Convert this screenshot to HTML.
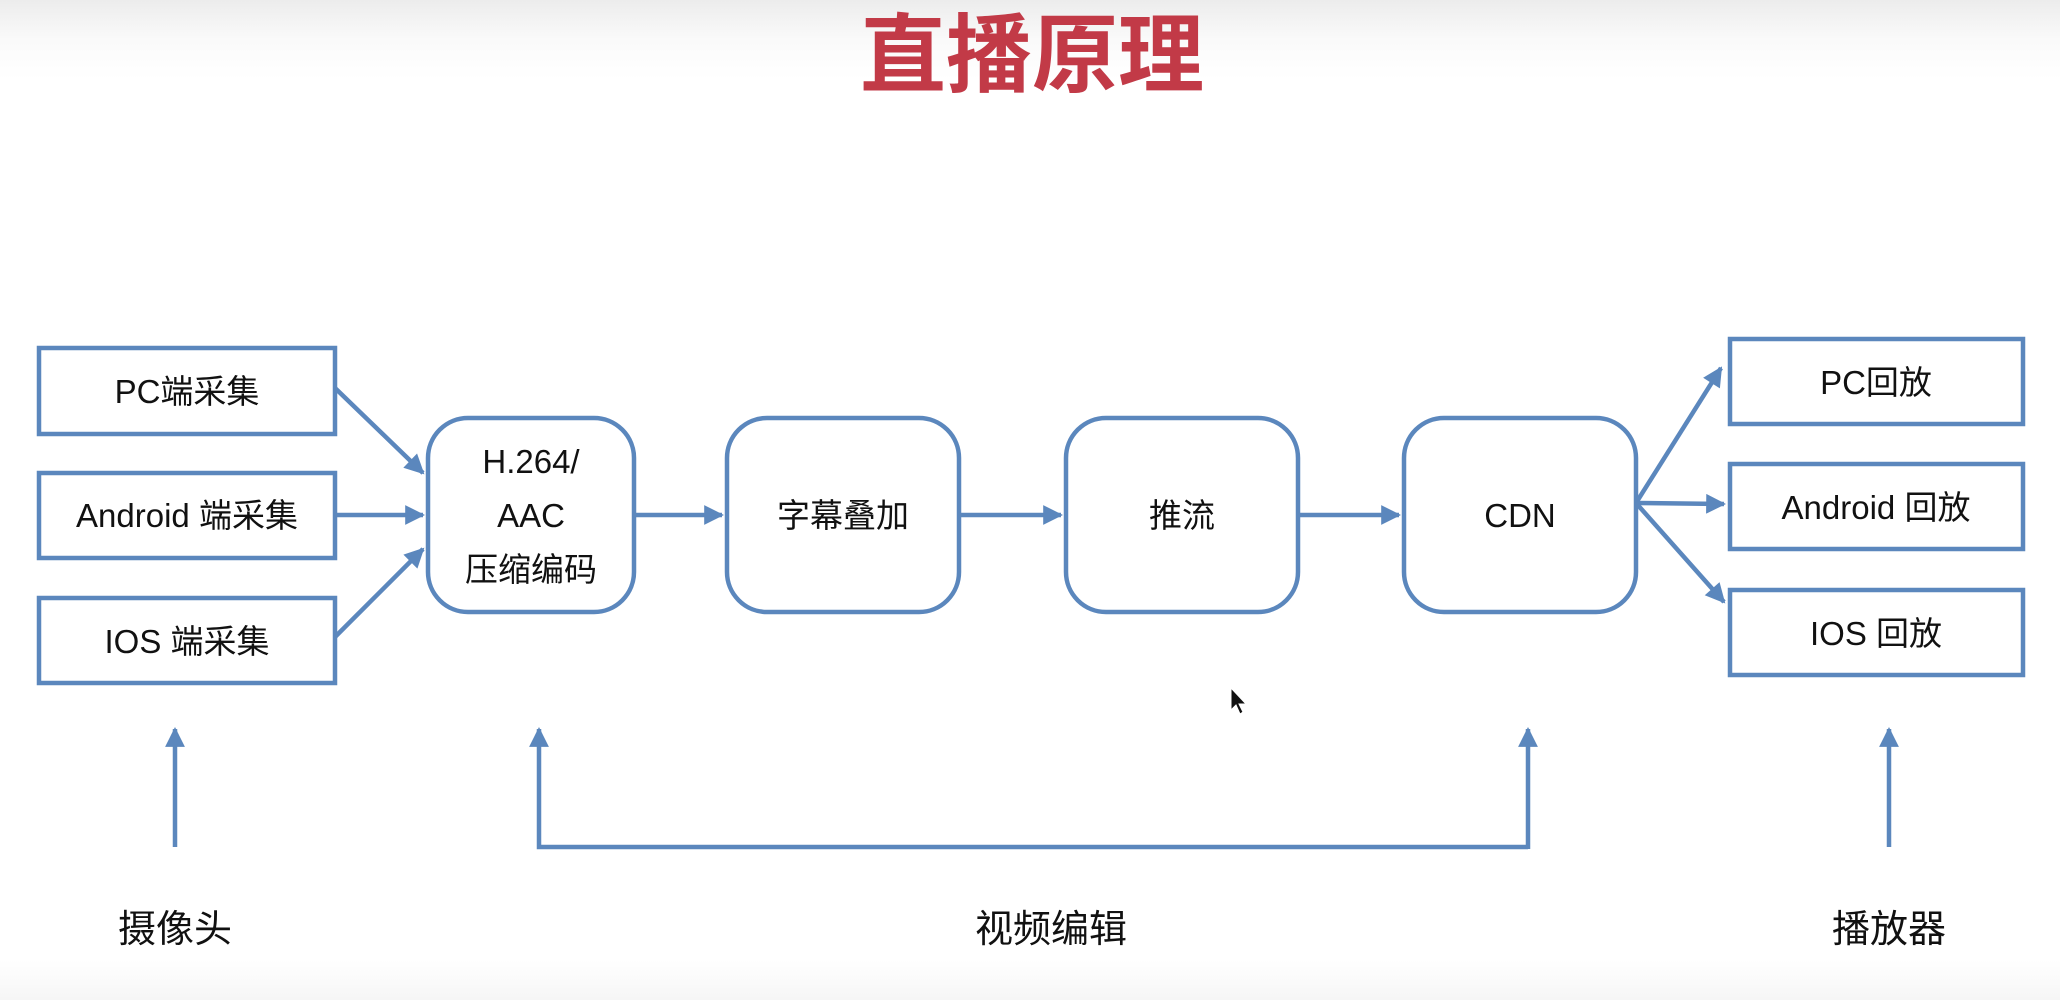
<!DOCTYPE html>
<html><head><meta charset="utf-8"><style>
html,body{margin:0;padding:0;background:#fff;}
body{width:2060px;height:1000px;overflow:hidden;position:relative;
background:linear-gradient(#ececec 0px,#fafafa 40px,#fff 80px,#fff 960px,#f6f6f6 1000px);}
svg{position:absolute;left:0;top:0;}
text{font-family:"Liberation Sans","Noto Sans CJK SC",sans-serif;fill:#111;}
</style></head><body>
<svg width="2060" height="1000" viewBox="0 0 2060 1000">
<defs>
<marker id="a" viewBox="0 0 10 10" refX="9" refY="5" markerWidth="5" markerHeight="4.4" orient="auto" markerUnits="strokeWidth">
<path d="M0,0 L10,5 L0,10 z" fill="#5b87bd"/></marker>
</defs>
<text x="1032" y="85" text-anchor="middle" font-size="86" font-weight="bold" style="fill:#c23a47">直播原理</text>
<g fill="none" stroke="#5b87bd" stroke-width="4.5">
<rect x="39" y="348" width="296" height="86"/>
<rect x="39" y="473" width="296" height="85"/>
<rect x="39" y="598" width="296" height="85"/>
<rect x="428" y="418" width="206" height="194" rx="40"/>
<rect x="727" y="418" width="232" height="194" rx="40"/>
<rect x="1066" y="418" width="232" height="194" rx="40"/>
<rect x="1404" y="418" width="232" height="194" rx="40"/>
<rect x="1730" y="339" width="293" height="85"/>
<rect x="1730" y="464" width="293" height="85"/>
<rect x="1730" y="590" width="293" height="85"/>
<g marker-end="url(#a)">
<line x1="335" y1="388" x2="423" y2="473"/>
<line x1="335" y1="515" x2="423" y2="515"/>
<line x1="335" y1="637" x2="423" y2="549"/>
<line x1="634" y1="515" x2="722" y2="515"/>
<line x1="959" y1="515" x2="1061" y2="515"/>
<line x1="1298" y1="515" x2="1399" y2="515"/>
<line x1="1636" y1="503" x2="1721" y2="368"/>
<line x1="1636" y1="503" x2="1724" y2="504"/>
<line x1="1636" y1="503" x2="1724" y2="602"/>
<line x1="175" y1="847" x2="175" y2="729"/>
<line x1="1889" y1="847" x2="1889" y2="729"/>
<polyline points="1528,847 539,847 539,729"/>
<line x1="1528" y1="849" x2="1528" y2="729"/>
</g>
</g>
<g font-size="33" text-anchor="middle">
<text x="187" y="403">PC端采集</text>
<text x="187" y="527">Android 端采集</text>
<text x="187" y="653">IOS 端采集</text>
<text x="531" y="473">H.264/</text>
<text x="531" y="527">AAC</text>
<text x="531" y="581">压缩编码</text>
<text x="843" y="527">字幕叠加</text>
<text x="1182" y="527">推流</text>
<text x="1520" y="527">CDN</text>
<text x="1876" y="394">PC回放</text>
<text x="1876" y="519">Android 回放</text>
<text x="1876" y="645">IOS 回放</text>
</g>
<g font-size="38" text-anchor="middle">
<text x="175" y="942">摄像头</text>
<text x="1051" y="942">视频编辑</text>
<text x="1889" y="942">播放器</text>
</g>
<path d="M1231,688 L1231,710 L1236,705 L1240,714 L1243,712 L1239,704 L1246,704 z" fill="#111" stroke="#fff" stroke-width="1"/>
</svg>
</body></html>
